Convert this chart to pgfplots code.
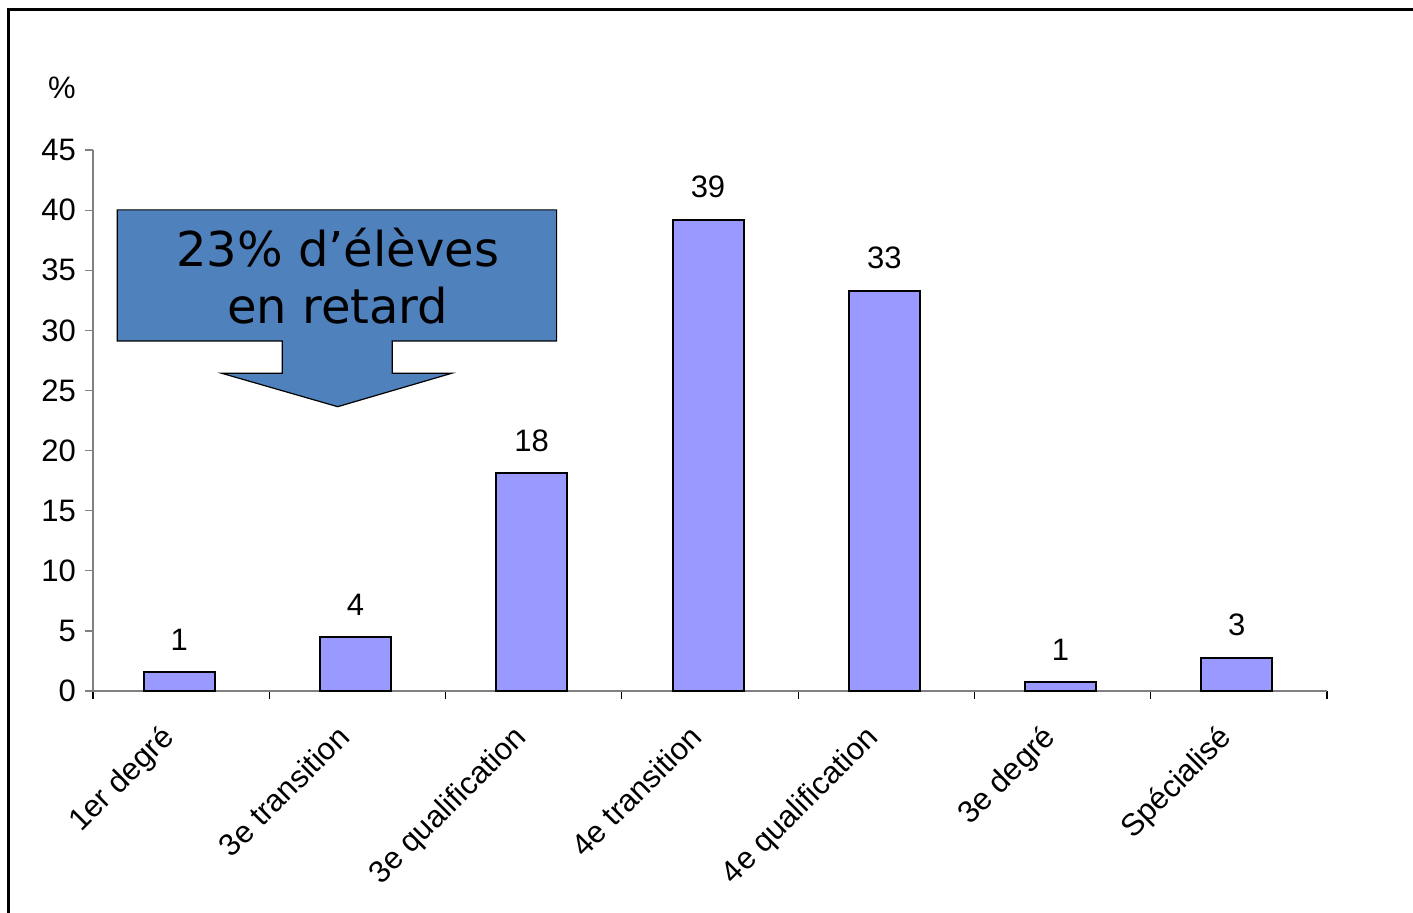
\documentclass[border=0pt]{standalone}
\usepackage{pgfplots}
\pgfplotsset{compat=1.18}
\usepackage{fontspec}
\setmainfont{Liberation Sans}
\newfontfamily\dv{DejaVu Sans}
\definecolor{barfill}{HTML}{9999FF}
\definecolor{callout}{HTML}{4F81BD}
\definecolor{axgray}{HTML}{808080}
\begin{document}
\begin{tikzpicture}
\useasboundingbox (-46.5pt,-110.5pt) rectangle (660pt,345.5pt);
\draw[line width=1.5pt] (-42.25pt,-200pt) -- (-42.25pt,340.5pt) -- (800pt,340.5pt);
\begin{axis}[
  at={(0,0)}, anchor=south west,
  scale only axis, width=617pt, height=270.5pt,
  xmin=-0.5, xmax=6.5, ymin=0, ymax=45,
  axis x line*=bottom, axis y line*=left,
  axis line style={axgray, line width=0.6pt},
  tick align=outside,
  ytick={0,5,...,45},
  xtick={0,...,6},
  xticklabels={1er degré,3e transition,3e qualification,4e transition,4e qualification,3e degré,Spécialisé},
  major x tick style={draw=none},
  minor xtick={-0.5,0.5,...,6.5},
  minor x tick style={black, line width=0.6pt},
  minor tick length=4pt,
  major tick length=4pt,
  y tick style={axgray, line width=0.6pt},
  /pgf/number format/assume math mode=true,
  ticklabel style={font=\fontsize{15.5}{18}\selectfont},
  yticklabel style={xshift=-1pt},
  xticklabel style={xshift=-11pt, yshift=-7pt, rotate=45, anchor=north east},
  clip=false,
  ybar, bar width=35.5pt, bar shift=-1pt,
  nodes near coords, point meta=explicit,
  every node near coord/.append style={font=\fontsize{15.5}{18}\selectfont, yshift=7pt, /pgf/number format/assume math mode=true},
]
\addplot[fill=barfill, draw=black, line width=1pt] table[x=x, y=y, meta=lab] {
x y lab
0 1.58 1
1 4.49 4
2 18.1 18
3 39.2 39
4 33.3 33
5 0.75 1
6 2.75 3
};
\draw[fill=callout, draw=black, line width=0.6pt]
  (axis cs:-0.362,40.02) -- (axis cs:2.130,40.02) -- (axis cs:2.130,29.12)
  -- (axis cs:1.198,29.12) -- (axis cs:1.198,26.43) -- (axis cs:1.535,26.43)
  -- (axis cs:0.888,23.65) -- (axis cs:0.230,26.43) -- (axis cs:0.574,26.43)
  -- (axis cs:0.574,29.12) -- (axis cs:-0.362,29.12) -- cycle;
\node[align=center, font=\dv\fontsize{24}{28.5}\selectfont] at (axis cs:0.888,34.5) {23\% d’élèves\\en retard};
\node[font=\fontsize{15.5}{18}\selectfont] at (axis cs:-0.676,50.2) {\%};
\end{axis}
\end{tikzpicture}
\end{document}
